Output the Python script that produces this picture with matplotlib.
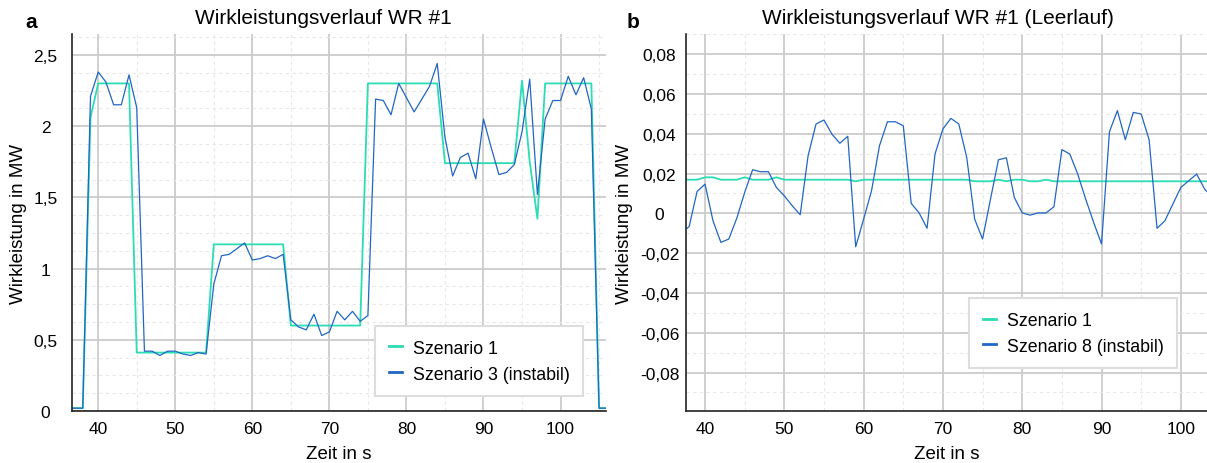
import matplotlib
matplotlib.use('Agg')

import matplotlib.pyplot as plt
from matplotlib.ticker import FuncFormatter, MultipleLocator

plt.rcParams['font.family'] = ['Liberation Sans', 'DejaVu Sans']
plt.rcParams['axes.unicode_minus'] = False

# Panel a: Wirkleistung WR #1 (MW), 1-s Schritte
zeit_a = list(range(36, 107))
szenario1_a = [0.02, 0.02, 0.02, 2.06, 2.30, 2.30, 2.30, 2.30, 2.30,
               0.41, 0.41, 0.41, 0.41, 0.41, 0.41, 0.41, 0.41, 0.41, 0.41,
               1.17, 1.17, 1.17, 1.17, 1.17, 1.17, 1.17, 1.17, 1.17, 1.17,
               0.60, 0.60, 0.60, 0.60, 0.60, 0.60, 0.60, 0.60, 0.60, 0.60,
               2.30, 2.30, 2.30, 2.30, 2.30, 2.30, 2.30, 2.30, 2.30, 2.30,
               1.74, 1.74, 1.74, 1.74, 1.74, 1.74, 1.74, 1.74, 1.74, 1.74,
               2.32, 1.75, 1.35, 2.30, 2.30, 2.30, 2.30, 2.30, 2.30, 2.30,
               0.02, 0.02]
szenario3_a = [0.02, 0.02, 0.02, 2.21, 2.38, 2.31, 2.15, 2.15, 2.36,
               2.13, 0.42, 0.42, 0.39, 0.42, 0.42, 0.40, 0.39, 0.41, 0.40,
               0.89, 1.09, 1.10, 1.14, 1.18, 1.06, 1.07, 1.09, 1.07, 1.10,
               0.64, 0.59, 0.57, 0.68, 0.53, 0.555, 0.70, 0.64, 0.70, 0.63,
               0.67, 2.19, 2.18, 2.08, 2.30, 2.20, 2.10, 2.19, 2.28, 2.44,
               1.92, 1.65, 1.78, 1.81, 1.63, 2.05, 1.85, 1.66, 1.675, 1.73,
               1.96, 2.33, 1.52, 2.05, 2.18, 2.18, 2.35, 2.22, 2.34, 2.12,
               0.02, 0.02]

# Panel b: Leerlauf
zeit_b = list(range(37, 105))
szenario1_b = [0.0169, 0.0169, 0.0169, 0.0181, 0.0181, 0.0169, 0.0169, 0.0169,
               0.0181, 0.0169, 0.0169, 0.0169, 0.0181, 0.0169, 0.0169, 0.0169,
               0.0169, 0.0169, 0.0169, 0.0169, 0.0169, 0.0169, 0.0161, 0.0169,
               0.0169, 0.0169, 0.0169, 0.0169, 0.0169, 0.0169, 0.0169, 0.0169,
               0.0169, 0.0169, 0.0169, 0.0169, 0.0169, 0.0161, 0.0161, 0.0161,
               0.0169, 0.0161, 0.0169, 0.0169, 0.0161, 0.0161, 0.0169, 0.0161,
               0.0161, 0.0161, 0.0161, 0.0161, 0.0161, 0.0161, 0.0161, 0.0161,
               0.0161, 0.0161, 0.0161, 0.0161, 0.0161, 0.0161, 0.0161, 0.0161,
               0.0161, 0.0161, 0.0161, 0.0161]
szenario8_b = [-0.010, -0.0066, 0.011, 0.0147, -0.0037, -0.0146, -0.0129, -0.0025,
               0.0105, 0.0219, 0.0209, 0.0209, 0.013, 0.0088, 0.0038, -0.0007,
               0.029, 0.0449, 0.0469, 0.0398, 0.0352, 0.0387, -0.0168, -0.0029,
               0.0114, 0.034, 0.046, 0.046, 0.044, 0.005, 0.0002, -0.0075,
               0.0298, 0.0424, 0.0477, 0.0449, 0.0281, -0.0029, -0.0129, 0.0072,
               0.0269, 0.0279, 0.008, 0.0002, -0.0009, 0.0002, 0.0002, 0.0033,
               0.032, 0.0298, 0.0197, 0.0072, -0.0045, -0.0154, 0.041, 0.0516,
               0.037, 0.0507, 0.0499, 0.037, -0.0075, -0.0037, 0.0047, 0.013,
               0.0164, 0.0197, 0.0122, 0.008]

GRUEN = '#2bdcb4'
BLAU = '#2166c4'

fig = plt.figure(figsize=(12.07, 4.64), dpi=100)
ax_a = fig.add_axes([72 / 1207, 52 / 464, 534 / 1207, 377 / 464])
ax_b = fig.add_axes([686 / 1207, 52 / 464, 521 / 1207, 377 / 464])


def style_axes(ax):
    for s in ['top', 'right']:
        ax.spines[s].set_visible(False)
    for s in ['left', 'bottom']:
        ax.spines[s].set_color('#222222')
        ax.spines[s].set_linewidth(1.2)
    ax.grid(True, which='major', color='#cccccc', linewidth=1.3)
    ax.grid(True, which='minor', color='#e8e8e8', linewidth=0.8, linestyle=(0, (3, 3)))
    ax.set_axisbelow(True)
    ax.tick_params(which='both', length=0, labelsize=12.5)
    ax.tick_params(axis='y', pad=19)
    ax.tick_params(axis='x', pad=7)
    ax.xaxis.set_major_locator(MultipleLocator(10))
    ax.xaxis.set_minor_locator(MultipleLocator(5))


# --- Panel a ---
style_axes(ax_a)
ax_a.plot(zeit_a, szenario1_a, color=GRUEN, lw=1.3, label='Szenario 1')
ax_a.plot(zeit_a, szenario3_a, color=BLAU, lw=0.9, label='Szenario 3 (instabil)')
ax_a.set_xlim(36.6, 105.9)
ax_a.set_ylim(0, 2.647)
ax_a.yaxis.set_major_locator(MultipleLocator(0.5))
ax_a.yaxis.set_minor_locator(MultipleLocator(0.125))
ax_a.yaxis.set_major_formatter(FuncFormatter(lambda v, p: f'{v:g}'.replace('.', ',')))

# --- Panel b ---
style_axes(ax_b)
ax_b.plot(zeit_b, szenario1_b, color=GRUEN, lw=1.3, label='Szenario 1')
ax_b.plot(zeit_b, szenario8_b, color=BLAU, lw=0.9, label='Szenario 8 (instabil)')
ax_b.set_xlim(37.6, 103.3)
ax_b.set_ylim(-0.0993, 0.0901)
ax_b.yaxis.set_major_locator(MultipleLocator(0.02))
ax_b.yaxis.set_minor_locator(MultipleLocator(0.01))
ax_b.yaxis.set_major_formatter(FuncFormatter(
    lambda v, p: '0' if abs(v) < 1e-9 else f'{v:.2f}'.replace('.', ',')))

titles = ['Wirkleistungsverlauf WR #1', 'Wirkleistungsverlauf WR #1 (Leerlauf)']
title_x = [0.47, 0.484]
ylab_x = [-0.0993, -0.119]
leg_anchor = [(0.957, 0.04), (0.942, 0.114)]
for i, ax in enumerate([ax_a, ax_b]):
    plt.setp(ax.get_yticklabels(), ha='center')
    ax.text(title_x[i], 1 + 16 / 377, titles[i], transform=ax.transAxes,
            ha='center', va='center', fontsize=15)
    ax.set_ylabel('Wirkleistung in MW', fontsize=13.5, va='center')
    ax.yaxis.set_label_coords(ylab_x[i], 0.5)
    ax.set_xlabel('Zeit in s', fontsize=13.5, va='center')
    ax.xaxis.set_label_coords(0.5, -43 / 377)
    leg = ax.legend(loc='lower right', bbox_to_anchor=leg_anchor[i], fontsize=12.8,
                    handlelength=0.75, handletextpad=0.6, labelspacing=0.5,
                    borderpad=0.75, borderaxespad=0, fancybox=False, framealpha=1)
    leg.get_frame().set_edgecolor('#dddddd')
    leg.get_frame().set_linewidth(1.5)
    for line in leg.get_lines():
        line.set_linewidth(2)

fig.text(31 / 1207, 1 - 23 / 464, 'a', fontsize=15, fontweight='bold', ha='center', va='center')
fig.text(633 / 1207, 1 - 23 / 464, 'b', fontsize=15, fontweight='bold', ha='center', va='center')

fig.savefig('out.png', dpi=100)
